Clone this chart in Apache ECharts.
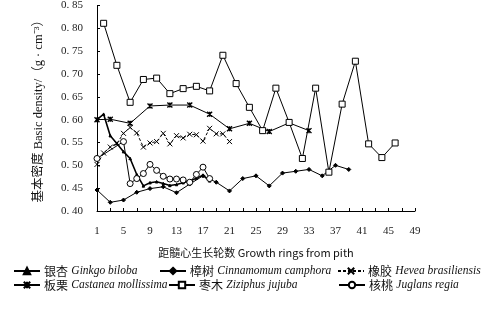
<!DOCTYPE html>
<html><head><meta charset="utf-8">
<script src="https://cdn.jsdelivr.net/npm/echarts@6/dist/echarts.min.js"></script>
<style>html,body{margin:0;padding:0;background:#fff}#c{width:488px;height:314px}</style>
</head><body><div id="c"></div>
<script>
// ---- data ----
const xTickValues = [1,3,5,7,9,11,13,15,17,19,21,23,25,27,29,31,33,35,37,39,41,43,45,47,49];
const xLabelValues = [1,5,9,13,17,21,25,29,33,37,41,45,49];

const ginkgoX = [1,2,3,4,5,6,7,8,9,10,11,12,13,14,15,16,17,18];
const ginkgoY = [0.600,0.612,0.565,0.548,0.530,0.515,0.480,0.455,0.462,0.464,0.460,0.456,0.458,0.462,0.465,0.472,0.478,0.466];

const cinnaX = [1,3,5,7,9,11,13,15,17,19,21,23,25,27,29,31,33,35,37,39];
const cinnaY = [0.446,0.419,0.424,0.441,0.449,0.453,0.440,0.459,0.477,0.463,0.444,0.471,0.477,0.455,0.483,0.487,0.491,0.477,0.500,0.491];

const heveaX = [1,2,3,4,5,6,7,8,9,10,11,12,13,14,15,16,17,18,19,20,21];
const heveaY = [0.502,0.527,0.540,0.548,0.570,0.583,0.571,0.540,0.549,0.552,0.570,0.547,0.565,0.560,0.568,0.567,0.553,0.581,0.569,0.569,0.552];

const castX = [1,3,6,9,12,15,18,21,24,27,30,33];
const castY = [0.600,0.601,0.592,0.630,0.632,0.632,0.612,0.580,0.592,0.574,0.593,0.576];

const zizX = [2,4,6,8,10,12,14,16,18,20,22,24,26,28,30,32,34,36,38,40,42,44,46];
const zizY = [0.811,0.719,0.638,0.688,0.691,0.657,0.668,0.673,0.663,0.741,0.679,0.627,0.576,0.669,0.594,0.515,0.669,0.485,0.634,0.728,0.547,0.517,0.549];

const juglX = [1,5,6,7,8,9,10,11,12,13,14,15,16,17,18];
const juglY = [0.515,0.552,0.460,0.471,0.482,0.502,0.489,0.476,0.470,0.470,0.468,0.463,0.480,0.496,0.471];

const seriesNames = ['银杏 Ginkgo biloba','樟树 Cinnamomum camphora','橡胶 Hevea brasiliensis','板栗 Castanea mollissima','枣木 Ziziphus jujuba','核桃 Juglans regia'];

// ---- chart ----
const SERIF = "'Liberation Serif','Noto Sans CJK SC',serif";
const CJK = "'Noto Sans CJK SC',sans-serif";
const pair = (xs, ys) => xs.map((x, i) => [x, ys[i]]);
const crossPath = 'path://M0,0L10,10M10,0L0,10';
const starPath = 'path://M0,0L10,10M10,0L0,10M5,0L5,10';

const chart = echarts.init(document.getElementById('c'), null, {renderer: 'canvas'});

function mk(name, xs, ys, opt) {
  return Object.assign({
    name, type: 'line', data: pair(xs, ys),
    lineStyle: {color: '#000', width: 1},
    itemStyle: {color: '#000', borderColor: '#000', borderWidth: 1},
    symbolSize: 5, showAllSymbol: true, animation: false, z: 2
  }, opt);
}

const series = [
  mk(seriesNames[0], ginkgoX, ginkgoY, {symbol: 'triangle', symbolSize: 2.5, lineStyle: {color: '#000', width: 1.6}}),
  mk(seriesNames[1], cinnaX, cinnaY, {symbol: 'diamond', symbolSize: 4}),
  mk(seriesNames[2], heveaX, heveaY, {symbol: crossPath, symbolSize: 5, lineStyle: {color: '#000', width: 1, type: [3, 2]}}),
  mk(seriesNames[3], castX, castY, {symbol: starPath, symbolSize: 5, itemStyle: {color: '#000', borderColor: '#000', borderWidth: 1.4}}),
  mk(seriesNames[4], zizX, zizY, {symbol: 'rect', symbolSize: 6, itemStyle: {color: '#fff', borderColor: '#000', borderWidth: 1}, z: 3}),
  mk(seriesNames[5], juglX, juglY, {symbol: 'circle', symbolSize: 6, itemStyle: {color: '#fff', borderColor: '#000', borderWidth: 1}, z: 3})
];

const rich = {
  cn: {fontFamily: CJK, fontSize: 12, color: '#111'},
  it: {fontFamily: SERIF, fontStyle: 'italic', fontSize: 11.5, color: '#111'}
};
const legendPos = [[13, 265], [159, 265], [337, 265], [13, 279], [168, 279], [338, 279]];
const legends = seriesNames.map((n, i) => ({
  left: legendPos[i][0], top: legendPos[i][1], data: [n],
  itemWidth: 26, itemHeight: 8, itemGap: 0, padding: 0,
  formatter: s => { const k = s.indexOf(' '); return '{cn|' + s.slice(0, k) + '} {it|' + s.slice(k + 1) + '}'; },
  textStyle: {rich, padding: [0, 0, 0, -1]}
}));

chart.setOption({
  backgroundColor: '#fff',
  animation: false,
  grid: {left: 97, right: 73, top: 4, bottom: 103, containLabel: false},
  legend: legends,
  xAxis: {
    type: 'value', min: 1, max: 49,
    name: '距髓心生长轮数 Growth rings from pith',
    nameLocation: 'middle', nameGap: 36,
    nameTextStyle: {fontFamily: "'Noto Sans CJK SC','Liberation Sans',sans-serif", fontSize: 11, color: '#111'},
    axisLine: {show: true, lineStyle: {color: '#000', width: 1}},
    axisTick: {show: true, inside: true, length: 3, lineStyle: {color: '#000'}, customValues: xTickValues},
    axisLabel: {customValues: xLabelValues, fontFamily: SERIF, fontSize: 11, color: '#222', margin: 15},
    splitLine: {show: false}
  },
  yAxis: {
    type: 'value', min: 0.40, max: 0.85, interval: 0.05,
    name: '基本密度 Basic density/（g · cm⁻³）',
    nameLocation: 'middle', nameGap: 52, nameRotate: 90,
    nameTextStyle: {fontFamily: SERIF, fontSize: 12.5, color: '#111'},
    axisLine: {show: true, lineStyle: {color: '#000', width: 1}},
    axisTick: {show: true, inside: true, length: 3, lineStyle: {color: '#000'}},
    axisLabel: {fontFamily: SERIF, fontSize: 11, color: '#222', margin: 14, padding: [8, 0, 0, 0],
      formatter: v => v.toFixed(2).replace('.', '. ')},
    splitLine: {show: false}
  },
  series
});
</script>
</body></html>
